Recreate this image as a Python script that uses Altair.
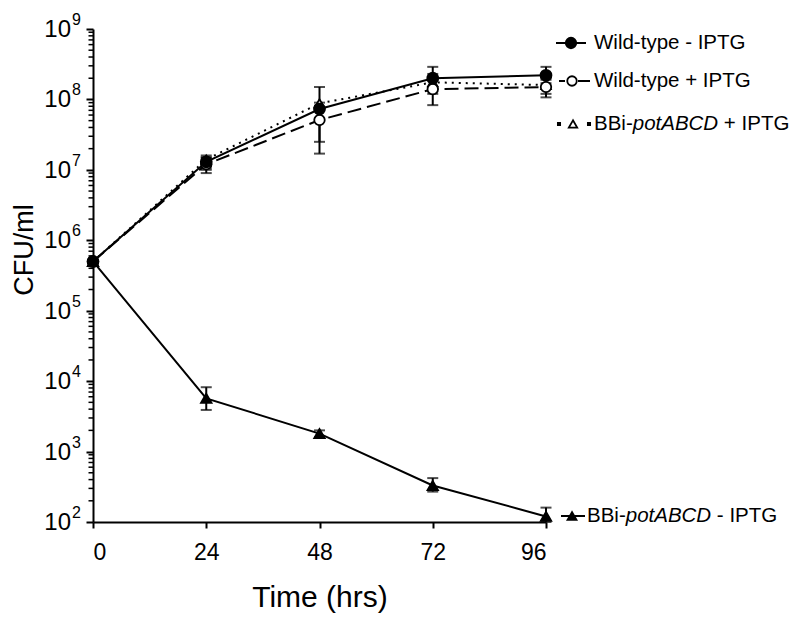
import altair as alt
import pandas as pd

# ---------------- data ----------------
time_h = [0, 24, 48, 72, 96]

wt_minus = [5.0e5, 1.3e7, 7.3e7, 2.0e8, 2.2e8]
wt_plus = [5.0e5, 1.2e7, 5.1e7, 1.4e8, 1.5e8]
bbi_plus = [5.0e5, 1.4e7, 8.8e7, 1.75e8, 1.6e8]
bbi_minus = [5.0e5, 5.7e3, 1.8e3, 3.3e2, 1.2e2]

# error bars (time, low, high)
wt_minus_err = [(24, 1.05e7, 1.5e7), (48, 2.5e7, 1.5e8), (72, 1.5e8, 2.9e8), (96, 1.7e8, 2.9e8)]
wt_plus_err = [(24, 9.0e6, 1.5e7), (48, 1.7e7, 9.0e7), (72, 8.3e7, 1.9e8), (96, 1.07e8, 1.9e8)]
bbi_plus_err = [(24, 1.0e7, 1.6e7), (72, 1.2e8, 2.3e8), (96, 1.2e8, 2.0e8)]
bbi_minus_err = [(24, 3.9e3, 8.2e3), (48, 1.6e3, 2.0e3), (72, 2.7e2, 4.2e2), (96, 1.0e2, 1.6e2)]

x_ticks = [0, 24, 48, 72, 96]
decades = [2, 3, 4, 5, 6, 7, 8, 9]
minor_vals = [m * 10 ** d for d in range(2, 9) for m in range(2, 10)]

FONT = "Liberation Sans"
W, H = 453, 493

xs = alt.Scale(domain=[0, 96], nice=False, zero=False)
ys = alt.Scale(type="log", domain=[100, 1e9], nice=False)


def series_df(vals):
    return pd.DataFrame({"t": time_h, "v": vals})


def err_df(errs):
    return pd.DataFrame(errs, columns=["t", "lo", "hi"])


x_enc = alt.X("t:Q", scale=xs, axis=alt.Axis(
    values=x_ticks, title="Time (hrs)", grid=False, domainColor="black", domainWidth=2,
    tickColor="black", tickWidth=2, tickSize=6, labelFont=FONT, labelFontSize=23,
    labelColor="black", labelPadding=13, titleFont=FONT, titleFontSize=30,
    titleFontWeight="normal", titleColor="black", titlePadding=18))
y_enc = alt.Y("v:Q", scale=ys, axis=alt.Axis(
    values=[10.0 ** d for d in decades], labels=False, title=None, grid=False, domainColor="black",
    domainWidth=2, tickColor="black", tickWidth=2, tickSize=7))


def line_layer(vals, dash):
    kw = dict(color="black", strokeWidth=2)
    if dash:
        kw["strokeDash"] = dash
    return alt.Chart(series_df(vals)).mark_line(**kw).encode(x=alt.X("t:Q", scale=xs), y=alt.Y("v:Q", scale=ys))


def err_layers(errs):
    d = err_df(errs)
    r = alt.Chart(d).mark_rule(color="black", strokeWidth=2).encode(
        x=alt.X("t:Q", scale=xs), y=alt.Y("lo:Q", scale=ys), y2="hi:Q")
    c1 = alt.Chart(d).mark_tick(color="black", thickness=2, size=11, orient="horizontal").encode(
        x=alt.X("t:Q", scale=xs), y=alt.Y("lo:Q", scale=ys))
    c2 = alt.Chart(d).mark_tick(color="black", thickness=2, size=11, orient="horizontal").encode(
        x=alt.X("t:Q", scale=xs), y=alt.Y("hi:Q", scale=ys))
    return [r, c1, c2]


def point_layer(vals, shape, filled, size):
    return alt.Chart(series_df(vals)).mark_point(
        shape=shape, filled=True, fill="black" if filled else "white", stroke="black",
        strokeWidth=1.8, size=size, opacity=1).encode(x=alt.X("t:Q", scale=xs), y=alt.Y("v:Q", scale=ys))


axes_layer = alt.Chart(series_df(bbi_minus)).mark_point(opacity=0).encode(x=x_enc, y=y_enc)

layers = [axes_layer]

# minor ticks on the log axis
minor_df = pd.DataFrame({"v": minor_vals})
layers.append(alt.Chart(minor_df).mark_rule(color="black", strokeWidth=1.5).encode(
    x=alt.value(-4.5), x2=alt.value(0), y=alt.Y("v:Q", scale=ys)))

layers.append(line_layer(bbi_plus, [2, 5]))
layers.append(line_layer(wt_plus, [14, 6]))
layers.append(line_layer(wt_minus, None))
layers.append(line_layer(bbi_minus, None))
for e in (bbi_plus_err, wt_plus_err, wt_minus_err, bbi_minus_err):
    layers += err_layers(e)
layers.append(point_layer(bbi_plus, "triangle-up", False, 90))
layers.append(point_layer(wt_plus, "circle", False, 110))
layers.append(point_layer(wt_minus, "circle", True, 120))
layers.append(point_layer(bbi_minus, "triangle-up", True, 110))

# y tick labels 10^n
dec_df = pd.DataFrame({"v": [10.0 ** d for d in decades], "e": [str(d) for d in decades]})
layers.append(alt.Chart(dec_df).mark_text(text="10", font=FONT, fontSize=24, align="right",
                                          baseline="middle", dy=1, color="black").encode(
    x=alt.value(-22), y=alt.Y("v:Q", scale=ys)))
layers.append(alt.Chart(dec_df).mark_text(font=FONT, fontSize=16, align="left",
                                          baseline="alphabetic", dy=-4, color="black").encode(
    x=alt.value(-21), y=alt.Y("v:Q", scale=ys), text="e:N"))

# y axis title
one = pd.DataFrame({"a": [0]})
layers.append(alt.Chart(one).mark_text(text="CFU/ml", font=FONT, fontSize=27, angle=270,
                                       align="center", baseline="middle", color="black").encode(
    x=alt.value(-68), y=alt.value(221)))


# legend
def leg_rule(x1, x2, y, dash=None):
    kw = dict(color="black", strokeWidth=2)
    if dash:
        kw["strokeDash"] = dash
    return alt.Chart(one).mark_rule(**kw).encode(x=alt.value(x1), x2=alt.value(x2), y=alt.value(y))


def leg_pt(x, y, shape, filled, size):
    return alt.Chart(one).mark_point(shape=shape, filled=True, fill="black" if filled else "white",
                                     stroke="black", strokeWidth=1.8, size=size, opacity=1).encode(
        x=alt.value(x), y=alt.value(y))


FS = 20.5


def leg_txt(x, y, s, italic=False):
    return alt.Chart(one).mark_text(text=s, font=FONT, fontSize=FS, align="left", baseline="middle",
                                    fontStyle="italic" if italic else "normal", color="black").encode(
        x=alt.value(x), y=alt.value(y))


TX = 501
# entry 1
layers += [leg_rule(463, 493, 14), leg_pt(478, 14, "circle", True, 110), leg_txt(TX, 14, "Wild-type - IPTG")]
# entry 2
layers += [leg_rule(466, 472, 52), leg_rule(485, 497, 52), leg_pt(479, 52, "circle", False, 90),
           leg_txt(TX, 52, "Wild-type + IPTG")]
# entry 3
layers += [leg_pt(466, 95, "square", True, 5), leg_pt(496, 95, "square", True, 5),
           leg_pt(480, 95, "triangle-up", False, 70)]
w1 = FS * 1.889
w2 = FS * 4.168
sp = FS * 0.278
layers += [leg_txt(TX, 95, "BBi-"), leg_txt(TX + w1, 95, "potABCD", True),
           leg_txt(TX + w1 + w2 + sp, 95, "+ IPTG")]
# entry 4
TX4 = 494
layers += [leg_rule(468, 492, 487), leg_pt(479, 487, "triangle-up", True, 80),
           leg_txt(TX4, 487, "BBi-"), leg_txt(TX4 + w1, 487, "potABCD", True),
           leg_txt(TX4 + w1 + w2 + sp, 487, "- IPTG")]

chart = alt.layer(*layers).properties(
    width=W, height=H,
    autosize=alt.AutoSizeParams(type="none"),
    padding={"left": 85, "top": 21, "right": 245, "bottom": 92},
    background="white",
).configure_view(stroke=None)

chart.save("out.html", embed_options={"renderer": "svg", "actions": False})
